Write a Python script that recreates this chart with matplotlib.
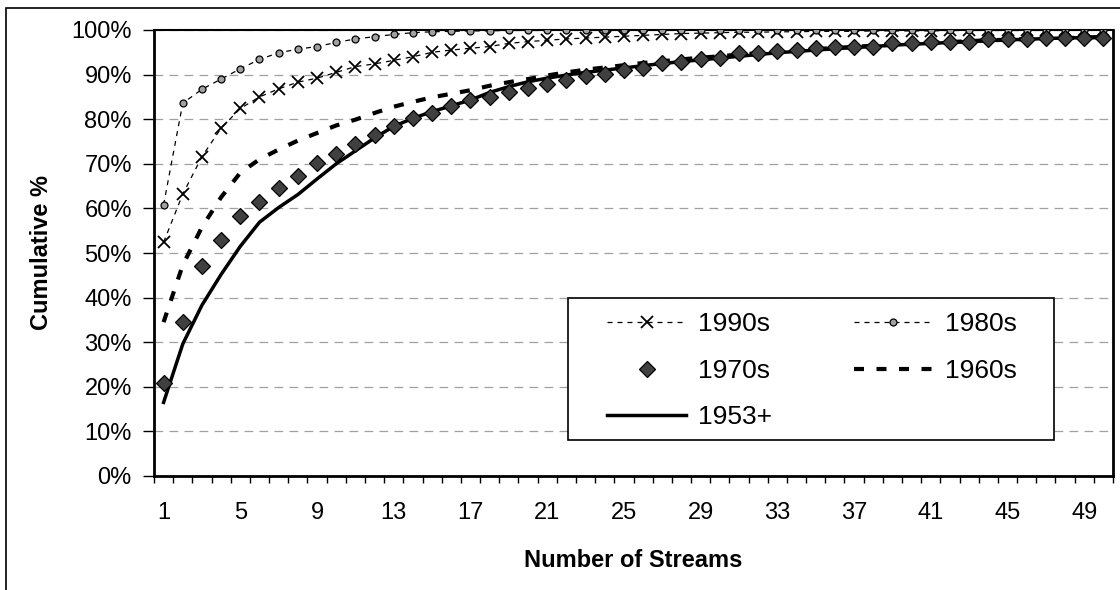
import numpy as np
import matplotlib
matplotlib.use('Agg')
import matplotlib.pyplot as plt
from matplotlib.patches import Rectangle
from matplotlib.ticker import FixedLocator, PercentFormatter

plt.rcParams['font.family'] = ['Liberation Sans', 'DejaVu Sans']

# number of streams (categories 1..50)
streams = list(range(1, 51))

# cumulative % by period
pct_1990s = [52.4, 63.2, 71.6, 78.0, 82.4, 85.0, 86.8, 88.3, 89.2, 90.5,
             91.8, 92.4, 93.2, 94.0, 95.0, 95.5, 95.9, 96.3, 97.0, 97.4,
             97.7, 98.0, 98.2, 98.4, 98.6, 98.8, 99.0, 99.2, 99.3, 99.4,
             99.5, 99.5, 99.6, 99.6, 99.7, 99.7, 99.7, 99.8, 99.8, 99.8,
             99.8, 99.9, 99.9, 99.9, 99.9, 99.9, 99.9, 100.0, 100.0, 100.0]
pct_1980s = [60.8, 83.6, 86.7, 89.0, 91.3, 93.4, 94.9, 95.7, 96.3, 97.2,
             98.0, 98.5, 99.0, 99.4, 99.6, 99.7, 99.8, 99.8, 99.9, 99.9,
             99.9, 100.0, 100.0, 100.0, 100.0, 100.0, 100.0, 100.0, 100.0, 100.0,
             100.0, 100.0, 100.0, 100.0, 100.0, 100.0, 100.0, 100.0, 100.0, 100.0,
             100.0, 100.0, 100.0, 100.0, 100.0, 100.0, 100.0, 100.0, 100.0, 100.0]
pct_1970s = [20.9, 34.5, 47.1, 52.9, 58.4, 61.5, 64.5, 67.3, 70.1, 72.3,
             74.4, 76.5, 78.5, 80.2, 81.5, 83.0, 84.3, 85.0, 86.0, 87.0,
             87.9, 88.8, 89.7, 90.1, 91.1, 91.4, 92.6, 92.9, 93.4, 93.8,
             94.8, 94.8, 95.2, 95.5, 96.0, 96.1, 96.3, 96.3, 97.0, 97.0,
             97.4, 97.4, 97.4, 97.9, 97.9, 97.9, 98.3, 98.3, 98.3, 98.3]
pct_1960s = [34.5, 47.3, 55.8, 62.5, 68.0, 71.0, 73.2, 75.2, 76.9, 78.6,
             79.9, 81.4, 82.8, 83.9, 84.9, 85.7, 86.5, 87.5, 88.3, 89.0,
             89.8, 90.5, 91.1, 91.6, 92.1, 92.6, 93.0, 93.4, 93.8, 94.1,
             94.5, 94.8, 95.1, 95.4, 95.7, 96.0, 96.2, 96.5, 96.7, 96.9,
             97.1, 97.3, 97.5, 97.7, 97.8, 98.0, 98.1, 98.2, 98.3, 98.4]
pct_1953 = [16.5, 29.6, 38.3, 45.2, 51.5, 56.9, 60.2, 63.1, 66.6, 70.0,
            72.9, 75.8, 78.4, 80.2, 81.7, 83.0, 84.3, 86.0, 87.3, 88.4,
            89.2, 89.9, 90.5, 91.0, 91.5, 92.0, 92.5, 92.9, 93.3, 93.7,
            94.1, 94.5, 94.9, 95.2, 95.5, 95.8, 96.1, 96.3, 96.6, 96.8,
            97.0, 97.2, 97.4, 97.6, 97.8, 97.9, 98.1, 98.2, 98.3, 98.5]

xtick_labels = [str(n) for n in range(1, 50, 4)]

fig = plt.figure(figsize=(11.2, 5.9), dpi=100)
ax = fig.add_axes([154 / 1120, 114 / 590, 959 / 1120, 446 / 590])

# outer chart frame
fig.add_artist(Rectangle((6 / 1120, -0.05), 1.1, (590 - 8) / 590 + 0.05,
                         transform=fig.transFigure, facecolor='none',
                         edgecolor='black', linewidth=1.2, zorder=0))

ax.yaxis.grid(True, color='#a0a0a0', linestyle=(0, (7, 5)), linewidth=0.9)
ax.set_axisbelow(True)

l90, = ax.plot(streams, pct_1990s, color='black', linestyle=(0, (4, 4)), linewidth=0.9,
               marker='x', markersize=9, markeredgewidth=1.3, label='1990s', zorder=3)
l80, = ax.plot(streams, pct_1980s, color='black', linestyle=(0, (4, 4)), linewidth=0.9,
               marker='o', markersize=5, markerfacecolor='#a0a0a0',
               markeredgecolor='black', markeredgewidth=0.9, label='1980s', zorder=3)
l60, = ax.plot(streams, pct_1960s, color='black', linestyle=(0, (2.4, 3)), linewidth=3,
               label='1960s', zorder=2)
l53, = ax.plot(streams, pct_1953, color='black', linestyle='-', linewidth=2.5,
               label='1953+', zorder=2)
l70, = ax.plot(streams, pct_1970s, linestyle='none', marker='D', markersize=8,
               markerfacecolor='#404040', markeredgecolor='black', markeredgewidth=0.9,
               label='1970s', zorder=4)

ax.set_xlim(0.5, 50.5)
ax.set_ylim(0, 100)
ax.yaxis.set_major_locator(FixedLocator(np.arange(0, 101, 10)))
ax.yaxis.set_major_formatter(PercentFormatter(decimals=0))
ax.set_xticks(range(1, 50, 4))
ax.set_xticklabels(xtick_labels)
ax.xaxis.set_minor_locator(FixedLocator(np.arange(0.5, 51, 1)))
ax.tick_params(axis='x', which='major', length=0, pad=18.5, labelsize=17)
ax.tick_params(axis='x', which='minor', length=5, width=1, direction='out')
ax.tick_params(axis='y', length=8, width=1, direction='out', pad=8, labelsize=17)

for side in ['left', 'bottom', 'right']:
    ax.spines[side].set_linewidth(2)
ax.spines['top'].set_linewidth(1.5)

ax.set_xlabel('Number of Streams', fontsize=17, fontweight='bold', labelpad=18)
ax.set_ylabel('Cumulative %', fontsize=17, fontweight='bold', labelpad=13)

# legend box drawn separately so the entries can sit inside it freely
ax.add_patch(Rectangle((0.4317, 0.0807), 0.5068, 0.3184, transform=ax.transAxes,
                       facecolor='white', edgecolor='black', linewidth=1.2, zorder=5))
leg = ax.legend(handles=[l90, l70, l53, l80, l60], ncol=2, fontsize=19,
                loc='upper left', bbox_to_anchor=(0.4724, 0.367),
                borderaxespad=0, borderpad=0, frameon=False, handlelength=3.0,
                handletextpad=0.45, columnspacing=3.1, labelspacing=0.85)
leg.set_zorder(6)

fig.savefig('out.png', dpi=100)
